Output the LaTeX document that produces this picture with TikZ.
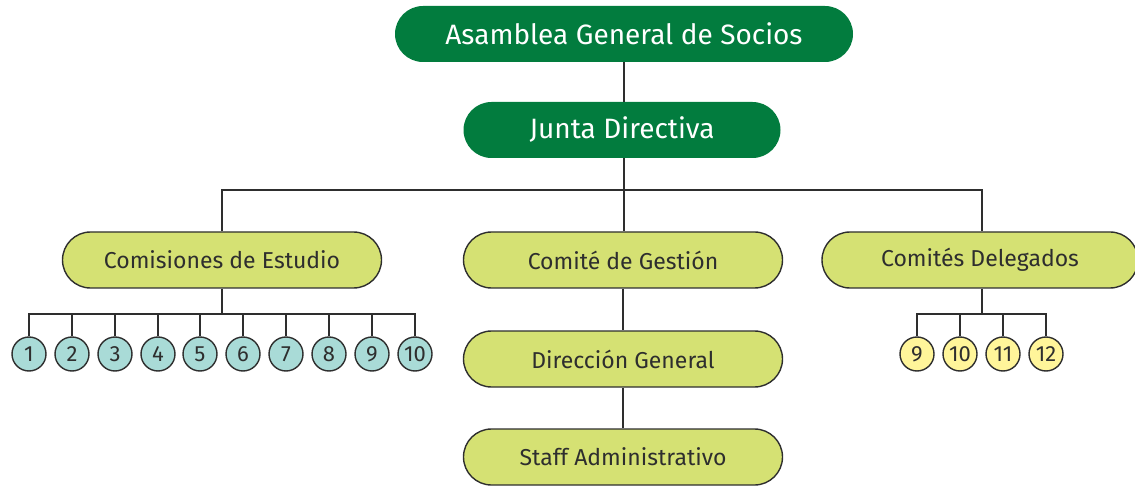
\documentclass[tikz,border=0pt]{standalone}
\usepackage{fontspec}
\setmainfont{Fira Sans}
\definecolor{dgreen}{HTML}{027C3E}
\definecolor{lgreen}{HTML}{D5E173}
\definecolor{teal}{HTML}{A9DBD7}
\definecolor{lyellow}{HTML}{FFF59A}
\definecolor{edge}{HTML}{2E2E2E}
\begin{document}
\begin{tikzpicture}[x=1pt,y=-1pt,
  topbox/.style={rectangle,rounded corners=28pt,fill=dgreen,text=white,minimum height=56pt,inner sep=0pt,font=\fontsize{28}{32}\selectfont},
  subbox/.style={rectangle,rounded corners=28pt,fill=lgreen,draw=edge,line width=1.4pt,text=edge,minimum width=319pt,minimum height=56pt,inner sep=0pt,font=\fontsize{23}{27}\selectfont},
  numc/.style={circle,draw=edge,line width=1.4pt,minimum size=34pt,inner sep=0pt,text=edge,font=\fontsize{22}{24}\selectfont},
  tc/.style={numc,fill=teal},
  yc/.style={numc,fill=lyellow},
  conn/.style={draw=edge,line width=1.6pt}]
\useasboundingbox (0,0) rectangle (1135,486);
\node[topbox,minimum width=458pt] (asam) at (624,34) {Asamblea General de Socios};
\node[topbox,minimum width=317pt] (junta) at (622,130) {Junta Directiva};
\node[subbox] (comis) at (222,260) {Comisiones de Estudio};
\node[subbox] (gest) at (623,260) {Comité de Gestión};
\node[subbox,minimum width=316pt] (deleg) at (980,260) {Comités Delegados};
\node[subbox] (dir) at (623,359) {Dirección General};
\node[subbox] (staff) at (623,457) {Staff Administrativo};
\foreach \i/\x in {1/29,2/72,3/115,4/158,5/200,6/243,7/286,8/329,9/372,10/415}
  \node[tc] (c\i) at (\x,354) {\i};
\foreach \i/\x in {9/917,10/960,11/1003,12/1046}
  \node[yc] (d\i) at (\x,354) {\i};
\coordinate (hb) at (624,190);
\coordinate (cb) at (222,314);
\coordinate (db) at (982,314);
\draw[conn] (asam.south -| hb) -- (junta.north -| hb);
\draw[conn] (junta.south -| hb) -- (gest.north -| hb);
\draw[conn] (comis.north) |- (hb) -| (deleg.north -| db);
\draw[conn] (gest.south) -- (dir.north);
\draw[conn] (dir.south) -- (staff.north);
\draw[conn] (comis.south) -- (cb);
\foreach \i in {1,...,10} \draw[conn] (c\i.north) |- (cb);
\draw[conn] (deleg.south -| db) -- (db);
\foreach \i in {9,...,12} \draw[conn] (d\i.north) |- (db);
\end{tikzpicture}
\end{document}
